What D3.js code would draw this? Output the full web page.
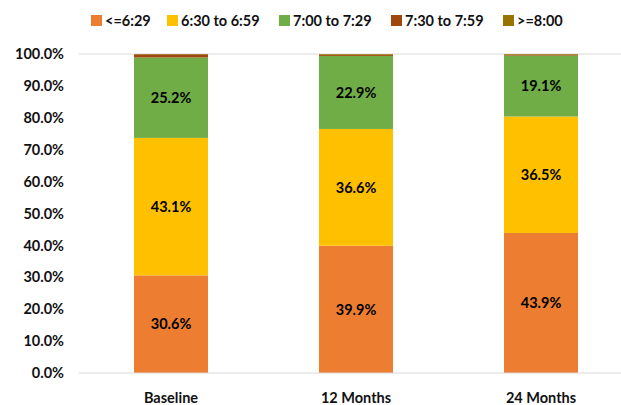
<!DOCTYPE html>
<html>
<head>
<meta charset="utf-8">
<script src="https://cdn.jsdelivr.net/npm/d3@7"></script>
<style>
  html, body { margin: 0; padding: 0; background: #fff; }
  svg { display: block; font-family: Lato, "Open Sans", sans-serif; font-weight: bold; }
</style>
</head>
<body>
<svg id="chart" width="621" height="405"></svg>
<script>
// Time-band shares per survey wave (percent)
const categories = ["Baseline", "12 Months", "24 Months"];
const seriesNames = ["<=6:29", "6:30 to 6:59", "7:00 to 7:29", "7:30 to 7:59", ">=8:00"];
const seriesColors = ["#ED7D31", "#FFC000", "#70AD47", "#9E480E", "#997300"];
const early   = [30.6, 39.9, 43.9];   // <=6:29
const mid     = [43.1, 36.6, 36.5];   // 6:30 to 6:59
const late    = [25.2, 22.9, 19.1];   // 7:00 to 7:29
const later   = [1.0, 0.4, 0.3];      // 7:30 to 7:59
const latest  = [0.1, 0.2, 0.2];      // >=8:00
const yTicks = [0, 10, 20, 30, 40, 50, 60, 70, 80, 90, 100];

const FONT = 14.5;
const seriesValues = [early, mid, late, later, latest];
const rows = categories.map((c, i) => {
  const r = { category: c };
  seriesNames.forEach((s, k) => { r[s] = seriesValues[k][i]; });
  return r;
});

const svg = d3.select("#chart");

const x = d3.scaleBand().domain(categories).range([78.5, 633.5])
  .paddingInner(0.6).paddingOuter(0.3);
const y = d3.scaleLinear().domain([0, 100]).range([373, 54]);

// top gridline
svg.append("line")
  .attr("x1", 79).attr("x2", 621)
  .attr("y1", y(100)).attr("y2", y(100))
  .attr("stroke", "#d9d9d9").attr("stroke-width", 1);

const stack = d3.stack().keys(seriesNames)(rows);

const layers = svg.append("g").selectAll("g")
  .data(stack).join("g")
  .attr("fill", (d, i) => seriesColors[i]);

layers.selectAll("rect")
  .data(d => d)
  .join("rect")
  .attr("x", d => x(d.data.category))
  .attr("width", x.bandwidth())
  .attr("y", d => y(d[1]))
  .attr("height", d => y(d[0]) - y(d[1]));

// value labels on the three main segments
svg.append("g").selectAll("g")
  .data(stack.slice(0, 3)).join("g")
  .selectAll("text")
  .data(d => d)
  .join("text")
  .attr("x", d => x(d.data.category) + x.bandwidth() / 2)
  .attr("y", d => (y(d[0]) + y(d[1])) / 2)
  .attr("dy", "0.36em")
  .attr("text-anchor", "middle")
  .attr("font-size", FONT)
  .attr("fill", "#000")
  .text(d => (d[1] - d[0]).toFixed(1) + "%");

// x axis baseline
svg.append("line")
  .attr("x1", 79).attr("x2", 621)
  .attr("y1", y(0)).attr("y2", y(0))
  .attr("stroke", "#d9d9d9").attr("stroke-width", 1);

// y axis labels
const yAxis = d3.axisLeft(y).tickValues(yTicks)
  .tickSize(0).tickPadding(0)
  .tickFormat(d => d.toFixed(1) + "%");
const yg = svg.append("g").attr("transform", "translate(64,0)").call(yAxis);
yg.select(".domain").remove();
yg.selectAll("text").attr("font-size", FONT).attr("fill", "#111")
  .attr("font-family", "Lato, 'Open Sans', sans-serif").attr("font-weight", "bold");

// x axis labels
const xAxis = d3.axisBottom(x).tickSize(0).tickPadding(0);
const xg = svg.append("g").attr("transform", `translate(0,${y(0) + 20})`).call(xAxis);
xg.select(".domain").remove();
xg.selectAll("text").attr("font-size", FONT).attr("fill", "#111")
  .attr("font-family", "Lato, 'Open Sans', sans-serif").attr("font-weight", "bold");

// legend
const legendX = [91, 167, 279, 391, 503];
const legend = svg.append("g").selectAll("g")
  .data(seriesNames).join("g")
  .attr("transform", (d, i) => `translate(${legendX[i]},15)`);
legend.append("rect")
  .attr("width", 11).attr("height", 11)
  .attr("fill", (d, i) => seriesColors[i]);
legend.append("text")
  .attr("x", 14).attr("y", 5.5).attr("dy", "0.36em")
  .attr("font-size", FONT).attr("fill", "#111")
  .text(d => d);
</script>
</body>
</html>
